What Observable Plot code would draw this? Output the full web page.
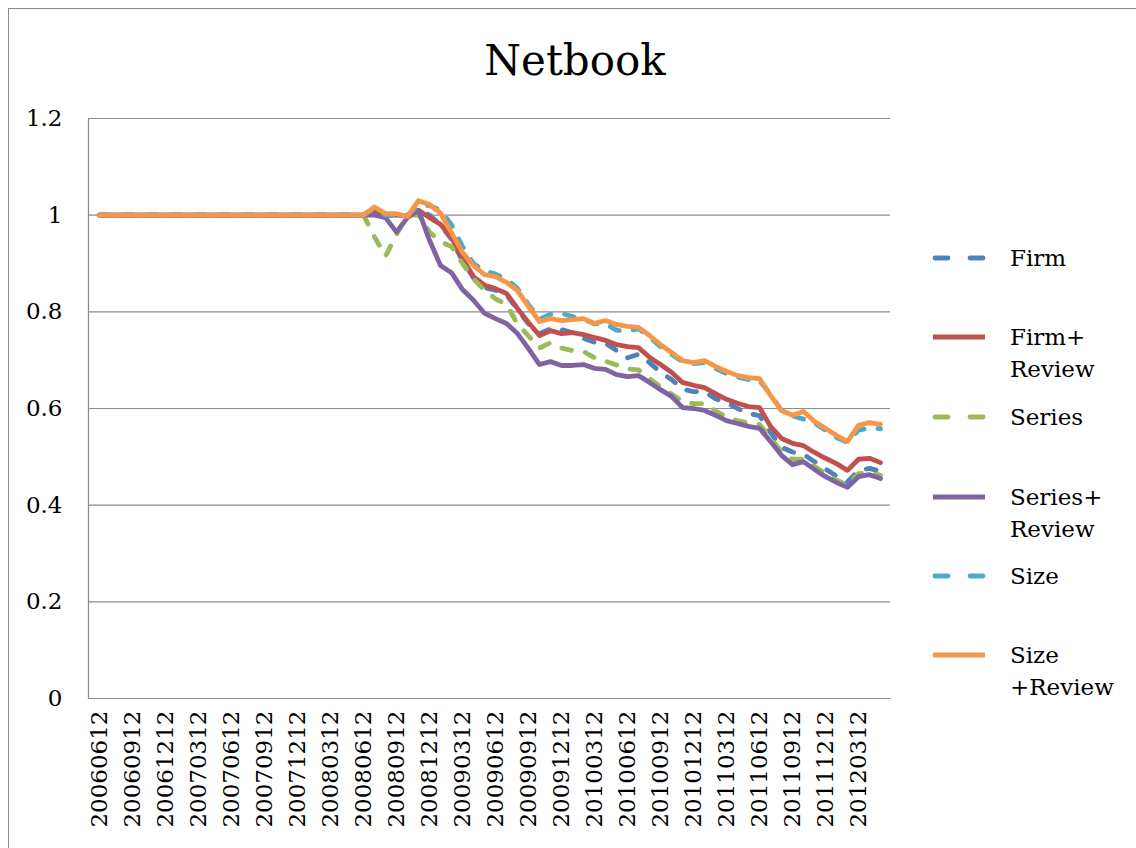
<!DOCTYPE html>
<html>
<head>
<meta charset="utf-8">
<script src="https://cdn.jsdelivr.net/npm/d3@7"></script>
<script src="https://cdn.jsdelivr.net/npm/@observablehq/plot@0.6"></script>
<style>
  html, body { margin: 0; padding: 0; background: #fff; }
  #wrap { position: relative; width: 1136px; height: 848px; overflow: hidden; font-family: "DejaVu Serif", serif; color: #000; }
  #wrap svg, #wrap svg text { font-family: "DejaVu Serif", serif !important; }
  #border { position: absolute; left: 8px; top: 8px; width: 1200px; height: 900px; border-left: 1.5px solid #8a8a8a; border-top: 1.5px solid #8a8a8a; }
  #title { position: relative; height: 100px; text-align: center; font-size: 42px; line-height: 42px; padding-top: 40px; padding-left: 14px; box-sizing: border-box; font-family: "DejaVu Serif", serif; }
  #legend { position: absolute; left: 0; top: 0; width: 1136px; height: 848px; pointer-events: none; }
  .item { position: absolute; left: 933px; font-size: 23px; line-height: 32px; font-family: "DejaVu Serif", serif; }
  .item svg { position: absolute; left: 0; top: 0; overflow: visible; }
  .item span { position: absolute; left: 77px; top: -16px; white-space: nowrap; }
</style>
</head>
<body>
<div id="wrap">
  <div id="border"></div>
  <div id="title">Netbook</div>
  <div id="chart"></div>
  <div id="legend"></div>
</div>
<script>
const categories = [
  "20060612","20060712","20060812","20060912","20061012","20061112","20061212",
  "20070112","20070212","20070312","20070412","20070512","20070612","20070712","20070812","20070912","20071012","20071112","20071212",
  "20080112","20080212","20080312","20080412","20080512","20080612","20080712","20080812","20080912","20081012","20081112","20081212",
  "20090112","20090212","20090312","20090412","20090512","20090612","20090712","20090812","20090912","20091012","20091112","20091212",
  "20100112","20100212","20100312","20100412","20100512","20100612","20100712","20100812","20100912","20101012","20101112","20101212",
  "20110112","20110212","20110312","20110412","20110512","20110612","20110712","20110812","20110912","20111012","20111112","20111212",
  "20120112","20120212","20120312","20120412","20120512"
];
const tickLabels = [
  "20060612","20060912","20061212","20070312","20070612","20070912","20071212","20080312",
  "20080612","20080912","20081212","20090312","20090612","20090912","20091212","20100312",
  "20100612","20100912","20101212","20110312","20110612","20110912","20111212","20120312"
];
const yTicks = [0, 0.2, 0.4, 0.6, 0.8, 1, 1.2];
const seriesNames = ["Firm", "Firm+Review", "Series", "Series+Review", "Size", "Size+Review"];
const legendLabels = [["Firm"], ["Firm+", "Review"], ["Series"], ["Series+", "Review"], ["Size"], ["Size", "+Review"]];
const colors = ["#4f81bd", "#c0504d", "#9bbb59", "#8064a2", "#4bacc6", "#f79646"];
const dashed = [true, false, true, false, true, false];

const firm = [
  1,1,1,1,1,1,1,1,1,1,1,1,1,1,1,1,1,1,1,1,1,1,1,1,
  1.0,1.015,1.0,1.0,1.0,1.013,1.0,0.98,0.95,0.905,0.87,0.85,0.845,0.835,0.805,0.775,0.755,0.765,0.763,0.757,0.745,0.737,0.735,0.72,
  0.705,0.712,0.695,0.675,0.66,0.64,0.635,0.635,0.62,0.612,0.60,0.59,0.585,0.55,0.52,0.51,0.505,0.49,0.475,0.46,0.448,0.472,0.476,0.47
];
const firmReview = [
  1,1,1,1,1,1,1,1,1,1,1,1,1,1,1,1,1,1,1,1,1,1,1,1,
  1.0,1.01,1.0,1.0,0.998,1.01,0.995,0.981,0.954,0.91,0.873,0.855,0.848,0.838,0.807,0.778,0.751,0.761,0.755,0.757,0.753,0.747,0.741,0.732,
  0.728,0.726,0.706,0.691,0.675,0.654,0.648,0.643,0.631,0.619,0.611,0.604,0.602,0.563,0.538,0.528,0.523,0.509,0.497,0.486,0.472,0.495,0.497,0.488
];
const series = [
  1,1,1,1,1,1,1,1,1,1,1,1,1,1,1,1,1,1,1,1,1,1,1,1,
  1.0,0.955,0.915,0.96,1.0,1.0,0.965,0.945,0.935,0.9,0.868,0.845,0.827,0.815,0.775,0.75,0.725,0.736,0.725,0.72,0.718,0.705,0.698,0.69,
  0.682,0.68,0.662,0.645,0.63,0.615,0.61,0.61,0.595,0.582,0.575,0.57,0.567,0.54,0.51,0.495,0.495,0.48,0.465,0.452,0.442,0.465,0.468,0.462
];
const seriesReview = [
  1,1,1,1,1,1,1,1,1,1,1,1,1,1,1,1,1,1,1,1,1,1,1,1,
  1.0,1.0,0.995,0.965,0.995,1.01,0.948,0.896,0.881,0.846,0.824,0.797,0.786,0.776,0.755,0.724,0.691,0.697,0.689,0.689,0.691,0.683,0.681,0.67,
  0.666,0.668,0.654,0.639,0.625,0.602,0.6,0.596,0.586,0.575,0.569,0.563,0.559,0.532,0.503,0.484,0.49,0.474,0.459,0.447,0.437,0.459,0.463,0.455
];
const size = [
  1,1,1,1,1,1,1,1,1,1,1,1,1,1,1,1,1,1,1,1,1,1,1,1,
  1.0,1.015,1.0,1.0,1.0,1.02,1.02,1.01,0.98,0.935,0.9,0.885,0.878,0.868,0.848,0.815,0.785,0.795,0.797,0.79,0.785,0.775,0.775,0.762,
  0.76,0.765,0.748,0.728,0.712,0.697,0.693,0.695,0.683,0.672,0.665,0.66,0.657,0.63,0.595,0.585,0.578,0.57,0.555,0.54,0.53,0.555,0.56,0.558
];
const sizeReview = [
  1,1,1,1,1,1,1,1,1,1,1,1,1,1,1,1,1,1,1,1,1,1,1,1,
  1.0,1.017,1.003,1.003,0.997,1.03,1.022,1.004,0.964,0.923,0.896,0.877,0.873,0.861,0.844,0.811,0.78,0.786,0.782,0.784,0.786,0.776,0.782,0.774,
  0.77,0.768,0.751,0.732,0.716,0.699,0.695,0.699,0.687,0.677,0.668,0.664,0.662,0.627,0.596,0.586,0.594,0.573,0.559,0.544,0.532,0.565,0.571,0.567
];

const allValues = [firm, firmReview, series, seriesReview, size, sizeReview];
const rows = [];
allValues.forEach((vals, s) => vals.forEach((v, i) => rows.push({cat: categories[i], series: seriesNames[s], value: v})));

const FONT = "'DejaVu Serif', serif";
const lineMarks = seriesNames.map((name, s) =>
  Plot.line(rows.filter(d => d.series === name), {
    x: "cat", y: "value",
    stroke: colors[s], strokeWidth: 4.8,
    strokeDasharray: dashed[s] ? "10,14" : null,
    strokeLinecap: "round", strokeLinejoin: "round"
  })
);

const chart = Plot.plot({
  width: 1136,
  height: 748,
  marginLeft: 88,
  marginRight: 246,
  marginTop: 18,
  marginBottom: 150,
  style: {background: "transparent", fontFamily: FONT, color: "#000", overflow: "visible"},
  x: {type: "point", domain: categories, padding: 0.5},
  y: {domain: [0, 1.2]},
  marks: [
    Plot.ruleY(yTicks, {stroke: "#8c8c8c", strokeWidth: 1.2}),
    Plot.frame({anchor: "left", stroke: "#8c8c8c", strokeWidth: 1.2}),
    ...lineMarks,
    Plot.axisY({ticks: yTicks, tickSize: 0, tickPadding: 26, fontSize: 23, label: null,
      tickFormat: d => String(+d.toFixed(1))}),
    Plot.axisX({ticks: tickLabels, tickSize: 0, tickPadding: 12, tickRotate: -90, fontSize: 23, label: null})
  ]
});
document.getElementById("chart").appendChild(chart);

// legend
const legendY = [258, 337, 417, 497, 576, 655];
const legend = document.getElementById("legend");
seriesNames.forEach((name, s) => {
  const item = document.createElement("div");
  item.className = "item";
  item.style.top = legendY[s] + "px";
  const ns = "http://www.w3.org/2000/svg";
  const svg = document.createElementNS(ns, "svg");
  svg.setAttribute("width", "60"); svg.setAttribute("height", "2");
  const ln = document.createElementNS(ns, "line");
  ln.setAttribute("x1", dashed[s] ? 2 : 0); ln.setAttribute("x2", dashed[s] ? 50 : 52);
  ln.setAttribute("y1", 0); ln.setAttribute("y2", 0);
  ln.setAttribute("stroke", colors[s]); ln.setAttribute("stroke-width", 4.8);
  ln.setAttribute("stroke-linecap", dashed[s] ? "round" : "butt");
  if (dashed[s]) ln.setAttribute("stroke-dasharray", "13,22");
  svg.appendChild(ln);
  item.appendChild(svg);
  const span = document.createElement("span");
  span.innerHTML = legendLabels[s].join("<br>");
  item.appendChild(span);
  legend.appendChild(item);
});
</script>
</body>
</html>
